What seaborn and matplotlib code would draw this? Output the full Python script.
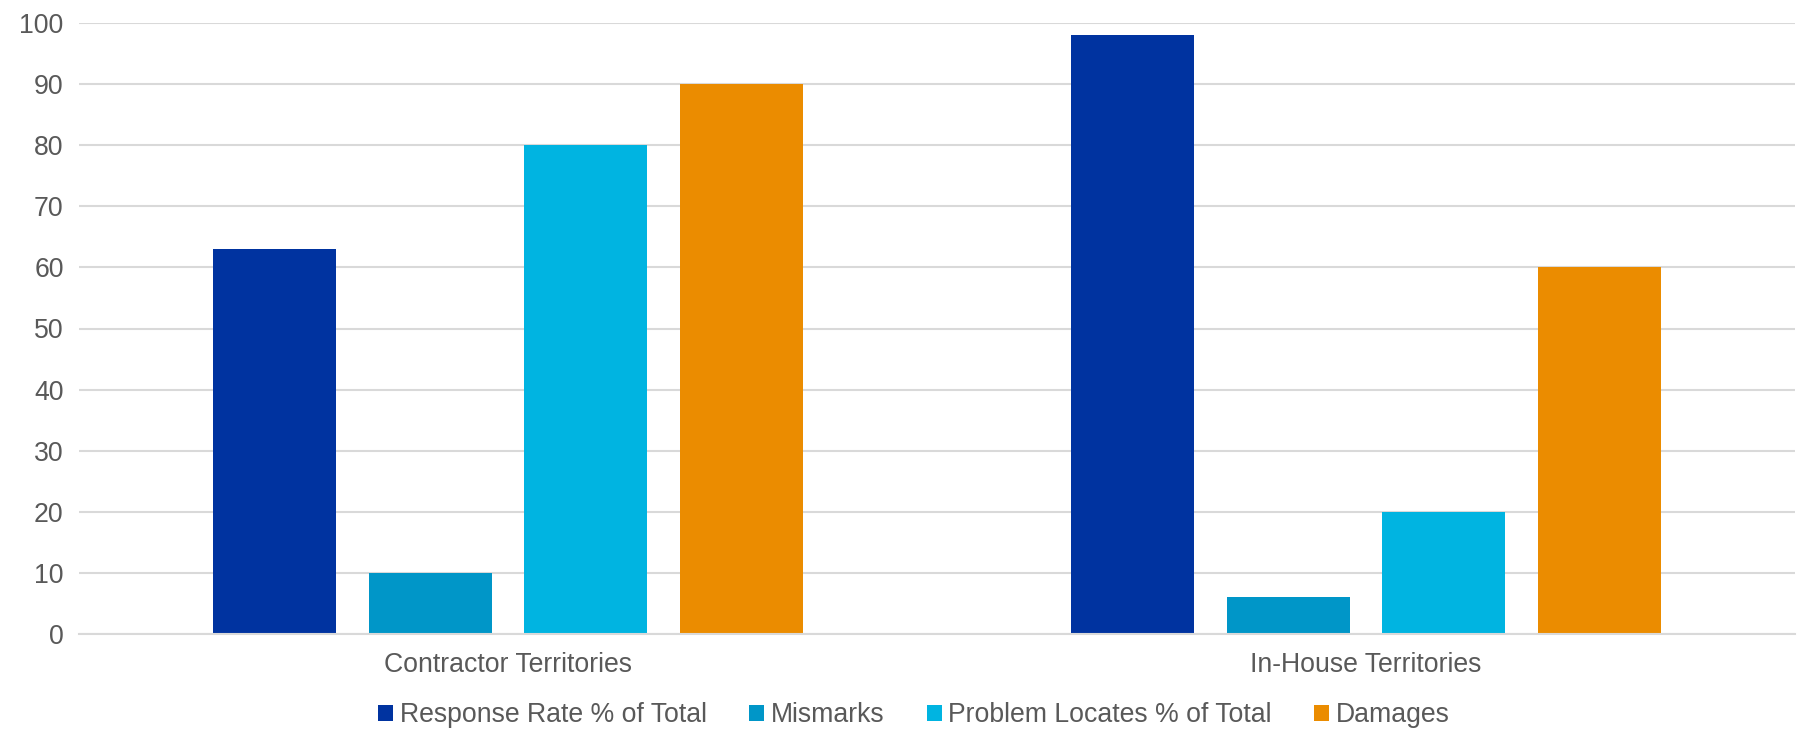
import matplotlib
matplotlib.use("Agg")
import matplotlib.pyplot as plt
import seaborn as sns
import pandas as pd
from matplotlib.patches import Patch

categories = ["Contractor Territories", "In-House Territories"]
series = ["Response Rate % of Total", "Mismarks", "Problem Locates % of Total", "Damages"]
response_rate = [63, 98]
mismarks = [10, 6]
problem_locates = [80, 20]
damages = [90, 60]
colors = ["#0033A0", "#0096C8", "#00B4E1", "#EB8C00"]
y_ticks = [0, 10, 20, 30, 40, 50, 60, 70, 80, 90, 100]

rows = []
for s, vals in zip(series, [response_rate, mismarks, problem_locates, damages]):
    for c, v in zip(categories, vals):
        rows.append({"category": c, "series": s, "value": v})
df = pd.DataFrame(rows)

sns.set_style("white")
plt.rcParams["font.family"] = ["Liberation Sans", "DejaVu Sans"]
text_color = "#595959"
grid_color = "#D9D9D9"
fs = 19.2

fig = plt.figure(figsize=(17.97, 7.32), dpi=100)
ax = fig.add_axes([79 / 1797, 1 - 634 / 732, (1795 - 79) / 1797, (634 - 23) / 732])

sns.barplot(data=df, x="category", y="value", hue="series", hue_order=series,
            order=categories, palette=colors, width=0.726, gap=0.21,
            saturation=1, ax=ax, legend=False, errorbar=None, linewidth=0)

ax.set_ylim(0, 100)
ax.set_xlim(-0.5, 1.5)
ax.set_yticks(y_ticks)
ax.yaxis.grid(True, color=grid_color, linewidth=1.5)
ax.set_axisbelow(True)
for side in ["top", "right", "left"]:
    ax.spines[side].set_visible(False)
ax.spines["bottom"].set_color(grid_color)
ax.spines["bottom"].set_linewidth(1.5)
ax.set_xlabel("")
ax.set_ylabel("")
ax.tick_params(axis="y", length=0, pad=11, labelsize=fs, labelcolor=text_color)
ax.tick_params(axis="x", which="major", length=0, pad=13, labelsize=fs, labelcolor=text_color)
ax.set_xticks([-0.5, 0.5, 1.5], minor=True)
ax.tick_params(axis="x", which="minor", length=7, width=1.5, color=grid_color)

handles = [Patch(facecolor=c, edgecolor="none") for c in colors]
fig.legend(handles, series, loc="center", bbox_to_anchor=(914 / 1797, 1 - 715 / 732),
           ncol=4, frameon=False, fontsize=fs, labelcolor=text_color,
           handlelength=0.55, handleheight=0.55, handletextpad=0.25, columnspacing=1.6)

fig.savefig("out.png", dpi=100)
